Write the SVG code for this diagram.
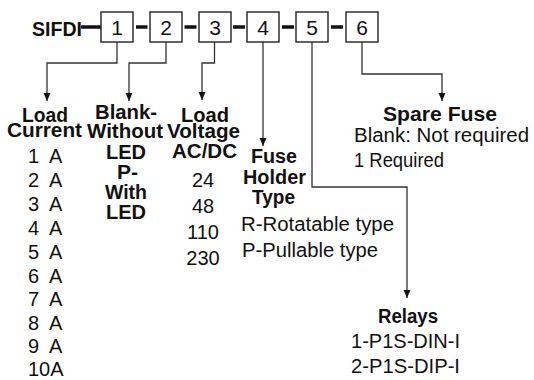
<svg xmlns="http://www.w3.org/2000/svg" width="534" height="380" viewBox="0 0 534 380">
<defs>
<style>
.b{font-family:"Liberation Sans",Arial,sans-serif;font-weight:bold;font-size:20px;fill:#111}
.r{font-family:"Liberation Sans",Arial,sans-serif;font-size:20px;fill:#111}
.n{font-family:"Liberation Sans",Arial,sans-serif;font-size:21px;fill:#111;text-anchor:middle}
.c{text-anchor:middle}
.box{fill:#fff;stroke:#222;stroke-width:1.4}
.dash{stroke:#111;stroke-width:3.5}
.ln{fill:none;stroke:#333;stroke-width:1.3}
.amp{word-spacing:5.5px}
</style>
<marker id="ah" markerUnits="userSpaceOnUse" markerWidth="8" markerHeight="9" refX="8" refY="3.5" orient="auto">
<path d="M0,0 L8,3.5 L0,7 z" fill="#111"/>
</marker>
</defs>
<rect width="534" height="380" fill="#fff"/>

<g id="title">
<text class="b" x="32" y="36" font-size="22.5" textLength="50" lengthAdjust="spacingAndGlyphs">SIFDI</text>
</g>

<g id="connectors">
<line class="dash" x1="81" y1="27" x2="101" y2="27"/>
<line class="dash" x1="136" y1="27" x2="147.5" y2="27"/>
<line class="dash" x1="184.5" y1="27" x2="196.5" y2="27"/>
<line class="dash" x1="233" y1="27" x2="245" y2="27"/>
<line class="dash" x1="282" y1="27" x2="294" y2="27"/>
<line class="dash" x1="331" y1="27" x2="343" y2="27"/>
<path class="ln" d="M117,42 V63 H47 V101" marker-end="url(#ah)"/>
<path class="ln" d="M166,42 V63 H129 V101" marker-end="url(#ah)"/>
<path class="ln" d="M214.5,42 V63 H202 V100" marker-end="url(#ah)"/>
<path class="ln" d="M263,42 V146" stroke-width="2" marker-end="url(#ah)"/>
<path class="ln" d="M312,42 V187 H407 V298" marker-end="url(#ah)"/>
<path class="ln" d="M362,42 V74 H442 V101" marker-end="url(#ah)"/>
</g>

<g id="box1"><rect class="box" x="101" y="12" width="32" height="30"/><text class="n" x="117" y="35">1</text></g>
<g id="box2"><rect class="box" x="150" y="12" width="32" height="30"/><text class="n" x="166" y="35">2</text></g>
<g id="box3"><rect class="box" x="199" y="12" width="32" height="30"/><text class="n" x="215" y="35">3</text></g>
<g id="box4"><rect class="box" x="247" y="12" width="32" height="30"/><text class="n" x="263" y="35">4</text></g>
<g id="box5"><rect class="box" x="296" y="12" width="32" height="30"/><text class="n" x="312" y="35">5</text></g>
<g id="box6"><rect class="box" x="346" y="12" width="32" height="30"/><text class="n" x="362" y="35">6</text></g>

<g id="load-current">
<text class="b" x="22" y="122" textLength="46" lengthAdjust="spacingAndGlyphs">Load</text>
<text class="b" x="7" y="137" textLength="75" lengthAdjust="spacingAndGlyphs">Current</text>
<text class="r amp" x="28" y="163">1 A</text>
<text class="r amp" x="28" y="187">2 A</text>
<text class="r amp" x="28" y="211">3 A</text>
<text class="r amp" x="28" y="235">4 A</text>
<text class="r amp" x="28" y="259">5 A</text>
<text class="r amp" x="28" y="283">6 A</text>
<text class="r amp" x="28" y="306">7 A</text>
<text class="r amp" x="28" y="330">8 A</text>
<text class="r amp" x="28" y="353">9 A</text>
<text class="r" x="28" y="376">10A</text>
</g>

<g id="led">
<text class="b" x="95" y="119" textLength="62" lengthAdjust="spacingAndGlyphs">Blank-</text>
<text class="b" x="87" y="138" textLength="76" lengthAdjust="spacingAndGlyphs">Without</text>
<text class="b" x="106" y="159" textLength="40" lengthAdjust="spacingAndGlyphs">LED</text>
<text class="b" x="117" y="179" textLength="21" lengthAdjust="spacingAndGlyphs">P-</text>
<text class="b" x="105" y="199" textLength="42" lengthAdjust="spacingAndGlyphs">With</text>
<text class="b" x="106" y="219" textLength="40" lengthAdjust="spacingAndGlyphs">LED</text>
</g>

<g id="load-voltage">
<text class="b" x="181" y="122" textLength="48" lengthAdjust="spacingAndGlyphs">Load</text>
<text class="b" x="167" y="138" textLength="73" lengthAdjust="spacingAndGlyphs">Voltage</text>
<text class="b" x="172" y="158" textLength="65" lengthAdjust="spacingAndGlyphs">AC/DC</text>
<text class="r c" x="203" y="187">24</text>
<text class="r c" x="203" y="213">48</text>
<text class="r c" x="203" y="239">110</text>
<text class="r c" x="203" y="265">230</text>
</g>

<g id="fuse-holder">
<text class="b" x="251" y="163" textLength="46" lengthAdjust="spacingAndGlyphs">Fuse</text>
<text class="b" x="243" y="184" textLength="63" lengthAdjust="spacingAndGlyphs">Holder</text>
<text class="b" x="252" y="204" textLength="43" lengthAdjust="spacingAndGlyphs">Type</text>
<text class="r" x="241" y="231" textLength="153" lengthAdjust="spacingAndGlyphs">R-Rotatable type</text>
<text class="r" x="242" y="257" textLength="136" lengthAdjust="spacingAndGlyphs">P-Pullable type</text>
</g>

<g id="spare-fuse">
<text class="b" x="383" y="121" textLength="114" lengthAdjust="spacingAndGlyphs">Spare Fuse</text>
<text class="r" x="354" y="142" textLength="175" lengthAdjust="spacingAndGlyphs">Blank: Not required</text>
<text class="r" x="354" y="167" textLength="90" lengthAdjust="spacingAndGlyphs">1 Required</text>
</g>

<g id="relays">
<text class="b" x="378" y="323" textLength="60" lengthAdjust="spacingAndGlyphs">Relays</text>
<text class="r" x="351" y="348" textLength="109" lengthAdjust="spacingAndGlyphs">1-P1S-DIN-I</text>
<text class="r" x="351" y="373" textLength="109" lengthAdjust="spacingAndGlyphs">2-P1S-DIP-I</text>
</g>
</svg>
